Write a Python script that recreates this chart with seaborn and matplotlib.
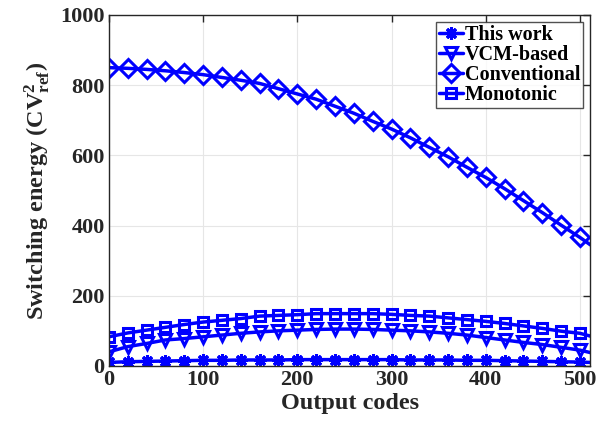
import numpy as np
import pandas as pd
import matplotlib
matplotlib.use("Agg")
import matplotlib.pyplot as plt
import seaborn as sns

# ---- data ----
codes = [0, 20, 40, 60, 80, 100, 120, 140, 160, 180, 200, 220, 240, 260, 280,
         300, 320, 340, 360, 380, 400, 420, 440, 460, 480, 500, 511]
this_work = [10, 12, 13, 14, 15, 16, 16, 17, 17, 17, 18, 18, 18, 18, 18,
             18, 17, 17, 17, 16, 16, 15, 14, 13, 12, 11, 10]
vcm_based = [40, 55, 64, 74, 78, 83, 88, 93, 97, 100, 102, 104, 105, 105, 104,
             102, 100, 97, 93, 88, 81, 74, 67, 61, 53, 45, 38]
conventional = [850, 848, 845, 841, 836, 830, 822, 814, 805, 790, 775, 760, 740, 720, 697,
                675, 650, 623, 596, 566, 537, 505, 471, 437, 401, 366, 345]
monotonic = [83, 94, 102, 110, 118, 125, 130, 135, 142, 144, 146, 149, 149, 149, 149,
             147, 144, 142, 137, 132, 127, 121, 114, 107, 99, 93, 85]
series_names = ["This work", "VCM-based", "Conventional", "Monotonic"]
x_ticks = [0, 100, 200, 300, 400, 500]
y_ticks = [0, 200, 400, 600, 800, 1000]

df = pd.DataFrame({"code": codes, "This work": this_work, "VCM-based": vcm_based,
                   "Conventional": conventional, "Monotonic": monotonic})
long = df.melt(id_vars="code", var_name="series", value_name="energy")

sns.set_theme(style="whitegrid")
plt.rcParams["font.family"] = ["Liberation Serif", "DejaVu Serif"]
plt.rcParams["font.weight"] = "bold"
plt.rcParams["mathtext.fontset"] = "custom"
plt.rcParams["mathtext.rm"] = "Liberation Serif:bold"
plt.rcParams["mathtext.bf"] = "Liberation Serif:bold"
plt.rcParams["mathtext.it"] = "Liberation Serif:bold"

fig = plt.figure(figsize=(6.08, 4.28), dpi=100)
ax = fig.add_axes([0.179, 0.145, 0.792, 0.82])

blue = "#0000ff"
markers = {"This work": (8, 2, 0), "VCM-based": "v", "Conventional": "D", "Monotonic": "s"}
msizes = {"This work": 9, "VCM-based": 8, "Conventional": 9, "Monotonic": 7}

sns.lineplot(data=long, x="code", y="energy", hue="series", hue_order=series_names,
             palette=[blue] * 4, ax=ax, legend=False, linewidth=2.5)

for line, name in zip(ax.get_lines(), series_names):
    line.set_marker(markers[name])
    line.set_markersize(msizes[name])
    line.set_markerfacecolor("none")
    line.set_markeredgecolor(blue)
    line.set_markeredgewidth(2.2)
    line.set_markevery(list(range(len(codes) - 1)))
    line.set_label(name)

ax.set_xlim(0, 511)
ax.set_ylim(0, 1000)
ax.set_xticks(x_ticks)
ax.set_yticks(y_ticks)
ax.tick_params(axis="both", direction="in", length=5, width=1, color="#262626",
               labelsize=16, top=True, right=True, pad=3)
for lab in ax.get_xticklabels() + ax.get_yticklabels():
    lab.set_fontweight("bold")
    lab.set_color("#262626")
ax.grid(True, color="#e6e6e6", linewidth=0.8)
for s in ax.spines.values():
    s.set_color("#262626")
    s.set_linewidth(1.0)
ax.set_facecolor("white")

ax.set_xlabel("Output codes", fontsize=17.5, fontweight="bold", color="#262626", labelpad=2)
ax.set_ylabel(r"Switching energy (CV$^{2}_{\mathrm{ref}}$)", fontsize=17.5,
              fontweight="bold", color="#262626", labelpad=6)

leg = ax.legend(loc="upper right", fontsize=14.5, frameon=True, fancybox=False,
                edgecolor="#262626", handlelength=1.2, handletextpad=0.1,
                borderpad=0.15, labelspacing=0.0, borderaxespad=0.35)
leg.get_frame().set_linewidth(1.0)
for t in leg.get_texts():
    t.set_fontweight("bold")
    t.set_color("black")

fig.savefig("out.png", dpi=100)
